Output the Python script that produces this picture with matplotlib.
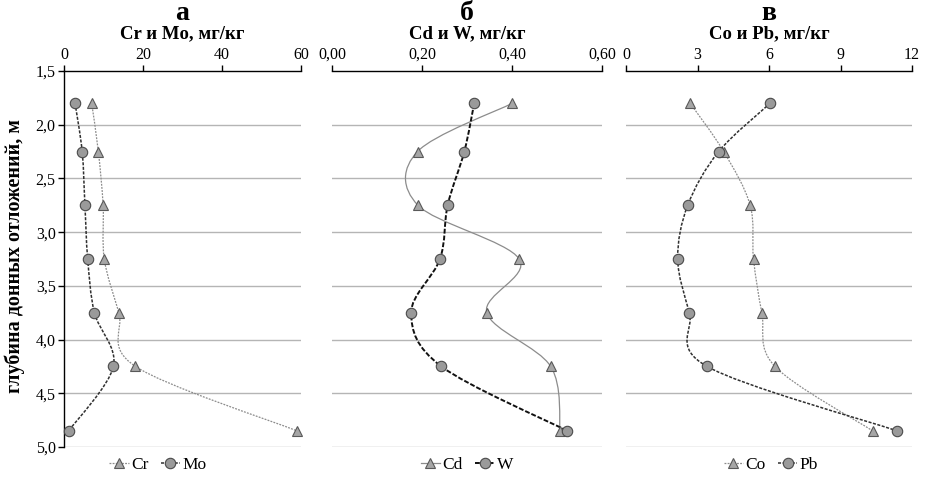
import numpy as np
import matplotlib
matplotlib.use('Agg')
import matplotlib.pyplot as plt
from matplotlib.path import Path
from matplotlib.patches import PathPatch
from matplotlib.lines import Line2D

plt.rcParams['font.family'] = ['Liberation Serif', 'DejaVu Serif']

# depths of sampling points, m
depth = [1.8, 2.25, 2.75, 3.25, 3.75, 4.25, 4.85]

# concentrations, mg/kg
cr = [7.0, 8.7, 9.9, 10.2, 13.9, 18.1, 59.0]
mo = [2.8, 4.6, 5.3, 6.0, 7.7, 12.5, 1.2]
cd = [0.401, 0.190, 0.191, 0.416, 0.344, 0.486, 0.507]
w = [0.316, 0.294, 0.257, 0.240, 0.176, 0.243, 0.523]
co = [2.69, 4.10, 5.21, 5.35, 5.70, 6.25, 10.35]
pb = [6.05, 3.89, 2.59, 2.17, 2.66, 3.40, 11.38]

letters = ['а', 'б', 'в']
titles = ['Cr и Mo, мг/кг', 'Cd и W, мг/кг', 'Co и Pb, мг/кг']
xlims = [(0, 60), (0, 0.6), (0, 12)]
xticks = [[0, 20, 40, 60], [0, 0.2, 0.4, 0.6], [0, 3, 6, 9, 12]]
xticklabels = [['0', '20', '40', '60'], ['0,00', '0,20', '0,40', '0,60'],
               ['0', '3', '6', '9', '12']]
series = [(('Cr', cr), ('Mo', mo)), (('Cd', cd), ('W', w)), (('Co', co), ('Pb', pb))]
yticks = [1.5, 2.0, 2.5, 3.0, 3.5, 4.0, 4.5, 5.0]

W_PX, H_PX = 927, 478
boxes = [(64, 301), (332, 602), (626, 912)]
legend_cx = [158, 467, 771]
top_px, bot_px = 71, 447

tri_style = dict(marker='^', ms=7, mfc='#a6a6a6', mec='#595959', mew=0.8)
circ_style = dict(marker='o', ms=7.5, mfc='#9a9a9a', mec='#4a4a4a', mew=0.8)
line_styles = [
    [dict(color='#8c8c8c', lw=0.9, ls=(0, (1.5, 1))), dict(color='#303030', lw=1.1, ls=(0, (2, 1)))],
    [dict(color='#8c8c8c', lw=0.9, ls='-'), dict(color='#111111', lw=1.4, ls=(0, (2.5, 1)))],
    [dict(color='#8c8c8c', lw=0.9, ls=(0, (1.5, 1))), dict(color='#303030', lw=1.1, ls=(0, (2, 1)))],
]


def smooth_path(x, y):
    # Excel-like smoothed line: Catmull-Rom as cubic Bezier segments
    pts = np.column_stack([x, y]).astype(float)
    n = len(pts)
    verts = [pts[0]]
    codes = [Path.MOVETO]
    for i in range(n - 1):
        p0 = pts[i - 1] if i > 0 else pts[i]
        p1, p2 = pts[i], pts[i + 1]
        p3 = pts[i + 2] if i + 2 < n else pts[i + 1]
        verts += [p1 + (p2 - p0) / 6, p2 - (p3 - p1) / 6, p2]
        codes += [Path.CURVE4] * 3
    return Path(verts, codes)


fig = plt.figure(figsize=(W_PX / 100, H_PX / 100), dpi=100)

for k in range(3):
    l, r = boxes[k]
    ax = fig.add_axes([l / W_PX, 1 - bot_px / H_PX, (r - l) / W_PX, (bot_px - top_px) / H_PX])
    ax.set_xlim(*xlims[k])
    ax.set_ylim(5.0, 1.5)
    ax.xaxis.tick_top()
    ax.set_xticks(xticks[k])
    ax.set_xticklabels(xticklabels[k])
    ax.tick_params(axis='x', direction='out', length=4, width=1, pad=2, labelsize=11.5)
    for yy in yticks[1:]:
        ax.axhline(yy, color='#b5b5b5', lw=1.0, zorder=0)
    for s in ['right', 'bottom']:
        ax.spines[s].set_visible(False)
    ax.spines['top'].set_linewidth(1.0)
    if k == 0:
        ax.set_yticks(yticks)
        ax.set_yticklabels([f'{v:.1f}'.replace('.', ',') for v in yticks])
        ax.tick_params(axis='y', direction='out', length=4, width=1, pad=2, labelsize=11.5)
        ax.spines['left'].set_linewidth(1.0)
    else:
        ax.spines['left'].set_visible(False)
        ax.set_yticks([])

    handles = []
    for j, (name, vals) in enumerate(series[k]):
        ls = line_styles[k][j]
        mstyle = tri_style if j == 0 else circ_style
        patch = PathPatch(smooth_path(vals, depth), fill=False, edgecolor=ls['color'],
                          lw=ls['lw'], linestyle=ls['ls'], zorder=2 + j)
        ax.add_patch(patch)
        ax.plot(vals, depth, ls='none', zorder=4 + j, clip_on=False, **mstyle)
        handles.append(Line2D([], [], color=ls['color'], lw=ls['lw'], ls=ls['ls'],
                              label=name, **mstyle))

    cx = (l + r) / 2 / W_PX
    fig.text(cx, 1 - 34 / H_PX, titles[k], ha='center', va='center', fontsize=13.5, fontweight='bold')
    fig.text(cx, 1 - 13 / H_PX, letters[k], ha='center', va='center', fontsize=20, fontweight='bold')
    fig.legend(handles=handles, loc='center', bbox_to_anchor=(legend_cx[k] / W_PX, 1 - 465 / H_PX),
               ncol=2, frameon=False, fontsize=12.5, handlelength=1.1, handletextpad=0.15,
               columnspacing=0.7, borderpad=0)

fig.text(15 / W_PX, 1 - 256 / H_PX, 'глубина донных отложений, м', rotation=90,
         ha='center', va='center', fontsize=14.5, fontweight='bold')

fig.savefig('out.png', dpi=100)
